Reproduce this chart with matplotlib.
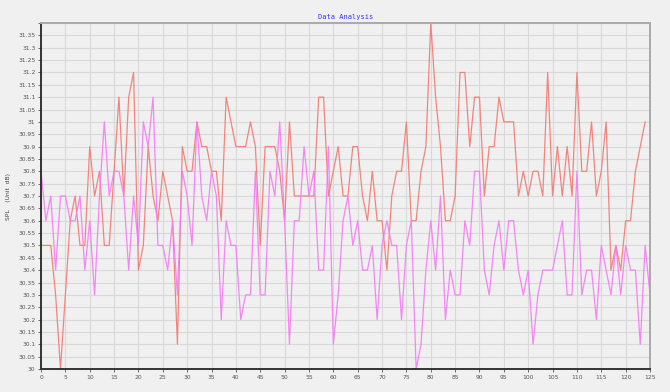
import numpy as np
import matplotlib
matplotlib.use('Agg')
import matplotlib.pyplot as plt
from matplotlib.ticker import MultipleLocator, FuncFormatter

# 两条 SPL 曲线 (单位 dB)
spl_a = [30.5, 30.5, 30.5, 30.3, 30.0, 30.3, 30.6, 30.7, 30.5, 30.5,
         30.9, 30.7, 30.8, 30.5, 30.5, 30.8, 31.1, 30.7, 31.1, 31.2,
         30.4, 30.5, 30.9, 30.7, 30.6, 30.8, 30.7, 30.6, 30.1, 30.9,
         30.8, 30.8, 31.0, 30.9, 30.9, 30.8, 30.8, 30.6, 31.1, 31.0,
         30.9, 30.9, 30.9, 31.0, 30.9, 30.5, 30.9, 30.9, 30.9, 30.8,
         30.6, 31.0, 30.7, 30.7, 30.7, 30.7, 30.7, 31.1, 31.1, 30.7,
         30.8, 30.9, 30.7, 30.7, 30.9, 30.9, 30.7, 30.6, 30.8, 30.6,
         30.6, 30.4, 30.7, 30.8, 30.8, 31.0, 30.6, 30.6, 30.8, 30.9,
         31.4, 31.1, 30.9, 30.6, 30.6, 30.7, 31.2, 31.2, 30.9, 31.1,
         31.1, 30.7, 30.9, 30.9, 31.1, 31.0, 31.0, 31.0, 30.7, 30.8,
         30.7, 30.8, 30.8, 30.7, 31.2, 30.7, 30.9, 30.7, 30.9, 30.7,
         31.2, 30.8, 30.8, 31.0, 30.7, 30.8, 31.0, 30.4, 30.5, 30.4,
         30.6, 30.6, 30.8, 30.9, 31.0]

spl_b = [30.8, 30.6, 30.7, 30.4, 30.7, 30.7, 30.6, 30.6, 30.7, 30.4,
         30.6, 30.3, 30.7, 31.0, 30.7, 30.8, 30.8, 30.7, 30.4, 30.7,
         30.5, 31.0, 30.9, 31.1, 30.5, 30.5, 30.4, 30.6, 30.3, 30.8,
         30.7, 30.5, 31.0, 30.7, 30.6, 30.8, 30.7, 30.2, 30.6, 30.5,
         30.5, 30.2, 30.3, 30.3, 30.8, 30.3, 30.3, 30.8, 30.7, 31.0,
         30.6, 30.1, 30.6, 30.6, 30.9, 30.7, 30.8, 30.4, 30.4, 30.9,
         30.1, 30.3, 30.6, 30.7, 30.5, 30.6, 30.4, 30.4, 30.5, 30.2,
         30.5, 30.6, 30.5, 30.5, 30.2, 30.5, 30.6, 30.0, 30.1, 30.4,
         30.6, 30.4, 30.7, 30.2, 30.4, 30.3, 30.3, 30.6, 30.5, 30.8,
         30.8, 30.4, 30.3, 30.5, 30.6, 30.4, 30.6, 30.6, 30.4, 30.3,
         30.4, 30.1, 30.3, 30.4, 30.4, 30.4, 30.5, 30.6, 30.3, 30.3,
         30.8, 30.3, 30.4, 30.4, 30.2, 30.5, 30.4, 30.3, 30.5, 30.3,
         30.5, 30.4, 30.4, 30.1, 30.5, 30.3]

bg = '#f0f0f0'
fig = plt.figure(figsize=(6.7, 3.92), dpi=100, facecolor=bg)
ax = fig.add_axes([41/670, 1-369/392, 609/670, 346/392], facecolor=bg)

ax.plot(np.arange(len(spl_a)), spl_a, color='#f27a72', lw=0.9, alpha=0.9)
ax.plot(np.arange(len(spl_b)), spl_b, color='#f57af5', lw=0.9, alpha=0.9)

ax.set_xlim(0, 125)
ax.set_ylim(30.0, 31.4)
ax.xaxis.set_major_locator(MultipleLocator(5))
ax.yaxis.set_major_locator(MultipleLocator(0.05))
ax.yaxis.set_major_formatter(FuncFormatter(lambda v, p: '' if v > 31.38 else ('%.2f' % v).rstrip('0').rstrip('.')))
ax.grid(color='#d9d9d9', lw=0.8)
ax.set_axisbelow(True)
ax.tick_params(labelsize=4.3, colors='#555555', length=2, width=0.6, pad=2)

for s in ['left', 'bottom']:
    ax.spines[s].set_color('#333333')
    ax.spines[s].set_linewidth(1.4)
for s in ['top', 'right']:
    ax.spines[s].set_color('#aaaaaa')
    ax.spines[s].set_linewidth(1.4)

ax.set_title('Data Analysis', fontsize=5, color='#3333ff', family='DejaVu Sans Mono', pad=3)
ax.set_ylabel('SPL    (Unit  dB)', fontsize=4.3, color='#444444', labelpad=5)

plt.savefig('out.png', dpi=100, facecolor=bg)
